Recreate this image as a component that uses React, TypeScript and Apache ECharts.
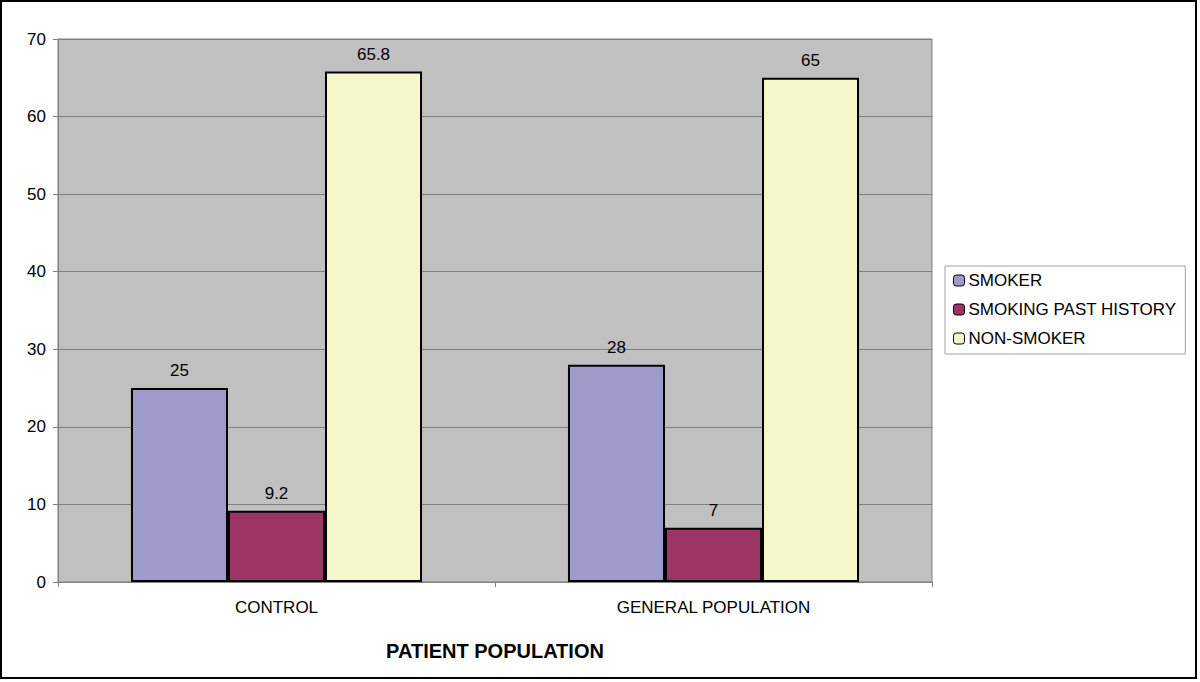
import React, { useEffect, useRef } from "react";
import * as echarts from "echarts";

const categories = ["CONTROL", "GENERAL POPULATION"];
const seriesNames = ["SMOKER", "SMOKING PAST HISTORY", "NON-SMOKER"];
const smoker = [25, 28];
const pastHistory = [9.2, 7];
const nonSmoker = [65.8, 65];
const colors = ["#9e9acb", "#9c3565", "#f5f7cb"];

export default function App() {
  const ref = useRef<HTMLDivElement>(null);
  useEffect(() => {
    document.body.style.margin = "0";
    const chart = echarts.init(ref.current!, null, { renderer: "svg" });
    const font = "Liberation Sans, Arial, sans-serif";
    const values = [smoker, pastHistory, nonSmoker];
    chart.setOption({
      animation: false,
      backgroundColor: "#ffffff",
      textStyle: { fontFamily: font },
      graphic: [
        {
          type: "rect",
          shape: { x: 1, y: 1, width: 1195, height: 677 },
          style: { fill: "none", stroke: "#000", lineWidth: 2 },
          z: 100,
        },
      ],
      grid: {
        left: 58,
        right: 268,
        top: 39,
        bottom: 100,
        show: true,
        backgroundColor: "#c0c0c0",
        borderColor: "#808080",
        borderWidth: 1,
      },
      legend: {
        orient: "vertical",
        left: 945,
        top: 266,
        padding: [6, 9, 7, 8],
        itemWidth: 11,
        itemHeight: 11,
        itemGap: 12,
        borderColor: "#a0a0a0",
        borderWidth: 1,
        backgroundColor: "#ffffff",
        textStyle: { fontFamily: font, fontSize: 17, color: "#000", padding: [0, 0, 0, -1] },
        data: seriesNames.map((n) => ({ name: n, itemStyle: { borderColor: "#000", borderWidth: 1 } })),
      },
      xAxis: {
        type: "category",
        data: categories,
        name: "PATIENT POPULATION",
        nameLocation: "middle",
        nameGap: 59,
        nameTextStyle: { fontFamily: font, fontSize: 20, fontWeight: "bold", color: "#000" },
        axisLine: { lineStyle: { color: "#808080", width: 1 } },
        axisTick: { show: true, length: 5, lineStyle: { color: "#808080" } },
        axisLabel: { fontFamily: font, fontSize: 17, color: "#000", margin: 17 },
      },
      yAxis: {
        type: "value",
        min: 0,
        max: 70,
        interval: 10,
        axisLine: { show: true, lineStyle: { color: "#808080", width: 1 } },
        axisTick: { show: true, length: 5, lineStyle: { color: "#808080" } },
        axisLabel: { fontFamily: font, fontSize: 17, color: "#000", margin: 12 },
        splitLine: { show: true, lineStyle: { color: "#808080", width: 1 } },
      },
      series: seriesNames.map((name, i) => ({
        name,
        type: "bar",
        data: values[i],
        barGap: "0%",
        barCategoryGap: "33.4%",
        itemStyle: { color: colors[i], borderColor: "#000", borderWidth: 2 },
        label: {
          show: true,
          position: "top",
          distance: 9,
          fontFamily: font,
          fontSize: 17,
          color: "#000",
        },
      })),
    });
    return () => chart.dispose();
  }, []);
  return <div ref={ref} style={{ width: 1200, height: 682 }} />;
}
